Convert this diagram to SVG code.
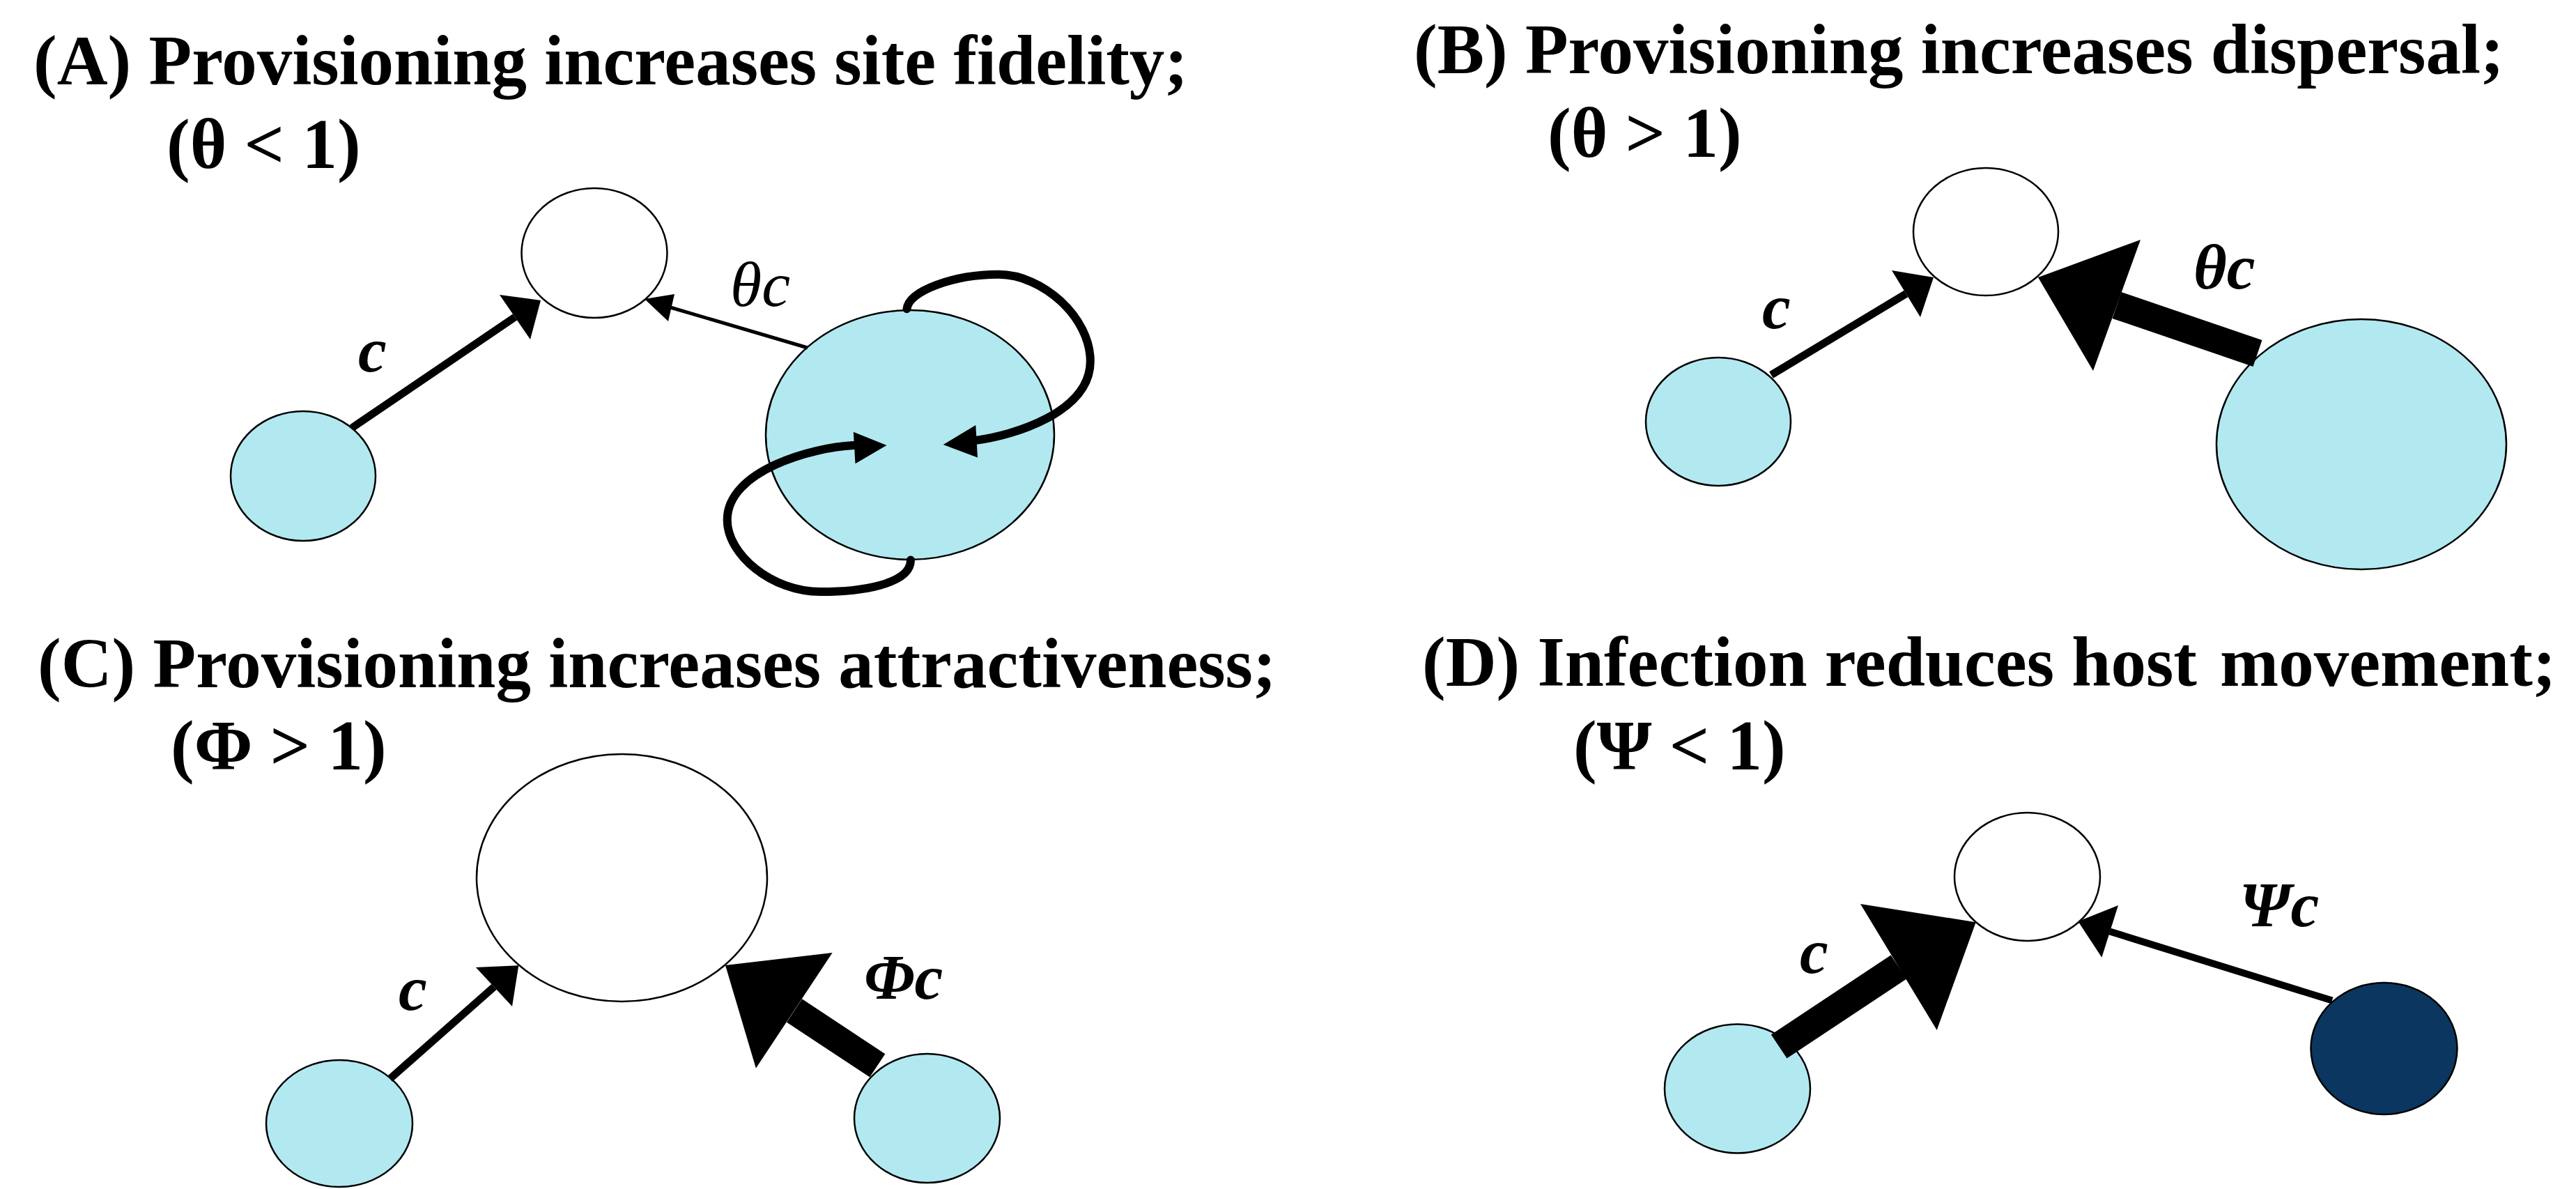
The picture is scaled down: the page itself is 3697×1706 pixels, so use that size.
<svg xmlns="http://www.w3.org/2000/svg" width="3697" height="1706" viewBox="0 0 3697 1706">
<style>
.title{font-family:"Liberation Serif","Times New Roman",serif;font-weight:bold;font-size:101px;fill:#000}
.lbl{font-family:"Liberation Serif","Times New Roman",serif;font-style:italic;font-weight:bold;font-size:92px;fill:#000}
.lbl-thin{font-family:"Liberation Serif","Times New Roman",serif;font-style:italic;font-weight:normal;font-size:92px;fill:#000}
.node{stroke:#000;stroke-width:2.5}
.empty{fill:#fff}
.host{fill:#b2e9f1}
.infected{fill:#0b3660}
.shaft{stroke:#000;fill:none;stroke-linecap:butt}
.loop{stroke:#000;fill:none;stroke-width:12;stroke-linecap:round}
.head{fill:#000;stroke:none}
</style>
<rect width="3697" height="1706" fill="#fff"/>

<g id="titles">
<text class="title" x="48" y="121">(A) Provisioning increases site fidelity;</text>
<text class="title" x="239" y="241">(θ &lt; 1)</text>
<text class="title" x="2029" y="105">(B) Provisioning increases dispersal;</text>
<text class="title" x="2221" y="225">(θ &gt; 1)</text>
<text class="title" x="54" y="986">(C) Provisioning increases attractiveness;</text>
<text class="title" x="245" y="1104">(Φ &gt; 1)</text>
<text class="title" x="2041" y="984">(D) Infection reduces host<tspan dx="8"> movement;</tspan></text>
<text class="title" x="2258" y="1104">(Ψ &lt; 1)</text>
</g>

<!-- Panel A nodes -->
<g id="A-dest"><ellipse class="node empty" cx="853" cy="363" rx="104.5" ry="93"/></g>
<g id="A-src"><ellipse class="node host" cx="435" cy="683" rx="104" ry="93"/></g>
<g id="A-prov"><ellipse class="node host" cx="1306" cy="624" rx="207" ry="179"/></g>

<!-- Panel B nodes -->
<g id="B-dest"><ellipse class="node empty" cx="2850" cy="332.5" rx="104" ry="91.5"/></g>
<g id="B-src"><ellipse class="node host" cx="2466" cy="605" rx="104" ry="92"/></g>
<g id="B-prov"><ellipse class="node host" cx="3389" cy="637.5" rx="208" ry="179.5"/></g>

<!-- Panel C nodes -->
<g id="C-dest"><ellipse class="node empty" cx="892.5" cy="1259.5" rx="208.5" ry="177.5"/></g>
<g id="C-src"><ellipse class="node host" cx="487" cy="1612" rx="105" ry="91"/></g>
<g id="C-prov"><ellipse class="node host" cx="1330.5" cy="1604.5" rx="104.5" ry="92.5"/></g>

<!-- Panel D nodes -->
<g id="D-dest"><ellipse class="node empty" cx="2909.5" cy="1258" rx="104.5" ry="92"/></g>
<g id="D-src"><ellipse class="node host" cx="2493.5" cy="1562" rx="104.5" ry="92.5"/></g>
<g id="D-inf"><ellipse class="node infected" cx="3421.5" cy="1504.5" rx="105" ry="94.5"/></g>

<g id="connectors">
<!-- A -->
<line class="shaft" x1="505" y1="614" x2="739" y2="455" stroke-width="11"/>
<polygon class="head" points="776,431 717,423 761,487"/>
<line class="shaft" x1="1159" y1="499" x2="962" y2="441" stroke-width="5"/>
<polygon class="head" points="925,429 968,422 959,461"/>
<path class="loop" d="M1301.5,443.2 C1304.3,416.9 1370.1,393.8 1433.2,393.8 C1496.3,393.8 1564.8,455.3 1564.8,518.3 C1564.8,592.4 1452.4,625.3 1400.3,631.9"/>
<polygon class="head" points="1353.7,637.9 1400.3,609.9 1403,656.5"/>
<path class="loop" d="M1307,803.6 C1307,839.2 1233,849.1 1178.1,849.1 C1106.8,849.1 1043.7,795.3 1043.7,746 C1043.7,674.7 1167.2,641.7 1224.8,639"/>
<polygon class="head" points="1272.5,639 1224.8,619.8 1227.5,665.3"/>
<!-- B -->
<line class="shaft" x1="2542" y1="538" x2="2735.5" y2="421.5" stroke-width="11"/>
<polygon class="head" points="2775,398 2715,388 2756,455"/>
<line class="shaft" x1="3240" y1="507" x2="3038" y2="438" stroke-width="40"/>
<polygon class="head" points="2925,398 3072,344 3004,532"/>
<!-- C -->
<line class="shaft" x1="559.5" y1="1548" x2="709" y2="1416" stroke-width="11"/>
<polygon class="head" points="744.3,1385.2 682.9,1387.9 735,1443.9"/>
<line class="shaft" x1="1259.3" y1="1528.9" x2="1140" y2="1450" stroke-width="40"/>
<polygon class="head" points="1041,1385 1194.6,1367 1084.9,1532.7"/>
<!-- D -->
<line class="shaft" x1="2553.2" y1="1501.5" x2="2725" y2="1387.5" stroke-width="41"/>
<polygon class="head" points="2835.7,1323.2 2670,1296.9 2779.7,1477.9"/>
<line class="shaft" x1="3347" y1="1435.6" x2="3028" y2="1336.5" stroke-width="10"/>
<polygon class="head" points="2982.4,1322.1 3040,1299 3016.4,1373.7"/>
</g>

<g id="labels">
<text class="lbl" x="514" y="533">c</text>
<text class="lbl-thin" x="1048" y="439">θc</text>
<text class="lbl" x="2529" y="471">c</text>
<text class="lbl" x="3148" y="414">θc</text>
<text class="lbl" x="572" y="1449">c</text>
<text class="lbl" x="1240" y="1433">Φc</text>
<text class="lbl" x="2583" y="1396">c</text>
<text class="lbl" x="3214" y="1329">Ψc</text>
</g>
</svg>
